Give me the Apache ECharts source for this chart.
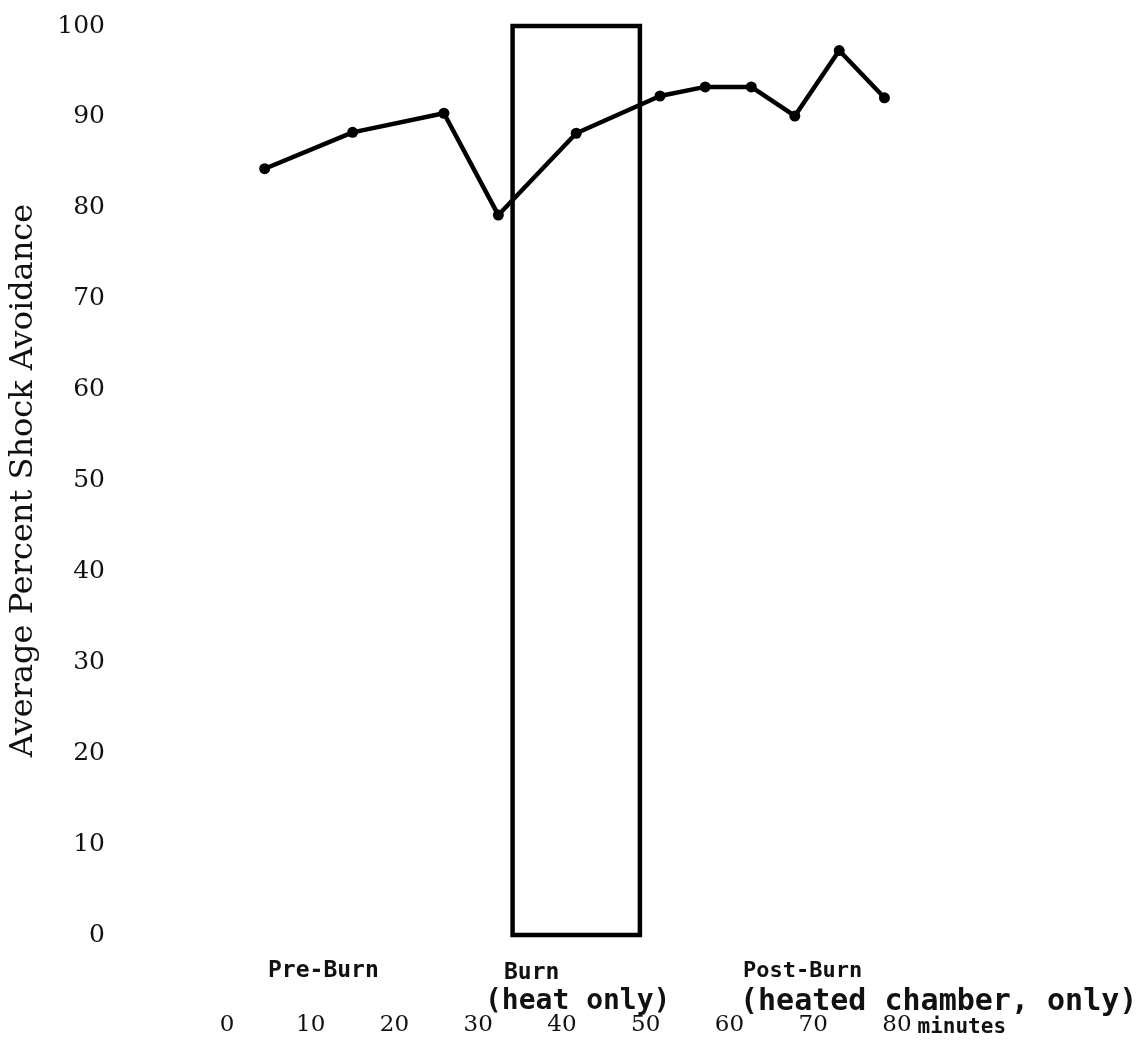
<!DOCTYPE html>
<html>
<head>
<meta charset="utf-8">
<script src="https://cdn.jsdelivr.net/npm/echarts@6/dist/echarts.min.js"></script>
<style>
html,body{margin:0;padding:0;background:#fff;}
#chart{width:1144px;height:1049px;}
</style>
</head>
<body>
<div id="chart"></div>
<script>
// ---- data ----
var minutes = [4.5, 15, 25.9, 32.4, 41.7, 51.7, 57.1, 62.6, 67.8, 73.1, 78.5];
var avoidance = [84.3, 88.3, 90.4, 79.2, 88.2, 92.3, 93.3, 93.3, 90.1, 97.3, 92.1];
var burnPeriod = [34.1, 49.3];
var yTicks = [0, 10, 20, 30, 40, 50, 60, 70, 80, 90, 100];
var xTicks = [0, 10, 20, 30, 40, 50, 60, 70, 80];
var phaseLabels = ['Pre-Burn', 'Burn', '(heat only)', 'Post-Burn', '(heated chamber, only)'];
var yTitle = 'Average Percent Shock Avoidance';
var xUnit = 'minutes';

var points = minutes.map(function (m, i) { return [m, avoidance[i]]; });

var chart = echarts.init(document.getElementById('chart'), null, {renderer: 'canvas'});
var serif = '"DejaVu Serif", serif';
var mono = '"DejaVu Sans Mono", monospace';

chart.setOption({
  backgroundColor: '#ffffff',
  animation: false,
  grid: {left: 209, right: 247, top: 26, bottom: 114, containLabel: false},
  xAxis: {
    type: 'value', min: 0, max: 80, interval: 10,
    axisLine: {show: false}, axisTick: {show: false}, splitLine: {show: false},
    axisLabel: {
      margin: 79, color: '#111', fontFamily: serif, fontSize: 23,
      formatter: function (v) { return xTicks.indexOf(v) >= 0 ? String(v) : ''; }
    },
    name: xUnit, nameLocation: 'end', nameGap: 8,
    nameTextStyle: {fontFamily: mono, fontSize: 21, fontWeight: 'bold', color: '#111',
      verticalAlign: 'top', padding: [82, 0, 0, 0]}
  },
  yAxis: {
    type: 'value', min: 0, max: 100, interval: 10,
    axisLine: {show: false}, axisTick: {show: false}, splitLine: {show: false},
    axisLabel: {
      margin: 122, color: '#111', fontFamily: serif, fontSize: 25,
      formatter: function (v) { return yTicks.indexOf(v) >= 0 ? String(v) : ''; }
    },
    name: yTitle, nameLocation: 'middle', nameGap: 187,
    nameTextStyle: {fontFamily: serif, fontSize: 32, color: '#111'}
  },
  series: [{
    type: 'line',
    data: points,
    symbol: 'circle', symbolSize: 11,
    lineStyle: {color: '#000', width: 4.5},
    itemStyle: {color: '#000'},
    markArea: {
      silent: true,
      itemStyle: {color: 'rgba(0,0,0,0)', borderColor: '#000', borderWidth: 4.5},
      data: [[{xAxis: burnPeriod[0], yAxis: 0}, {xAxis: burnPeriod[1], yAxis: 100}]]
    }
  }],
  graphic: [
    {type: 'text', left: 268, top: 960, style: {text: phaseLabels[0], font: 'bold 23px ' + mono, fill: '#111'}},
    {type: 'text', left: 504, top: 962, style: {text: phaseLabels[1], font: 'bold 23px ' + mono, fill: '#111'}},
    {type: 'text', left: 485, top: 988, style: {text: phaseLabels[2], font: 'bold 28px ' + mono, fill: '#111'}},
    {type: 'text', left: 743, top: 960, style: {text: phaseLabels[3], font: 'bold 22px ' + mono, fill: '#111'}},
    {type: 'text', left: 740, top: 987, style: {text: phaseLabels[4], font: 'bold 30px ' + mono, fill: '#111'}}
  ]
});
</script>
</body>
</html>
